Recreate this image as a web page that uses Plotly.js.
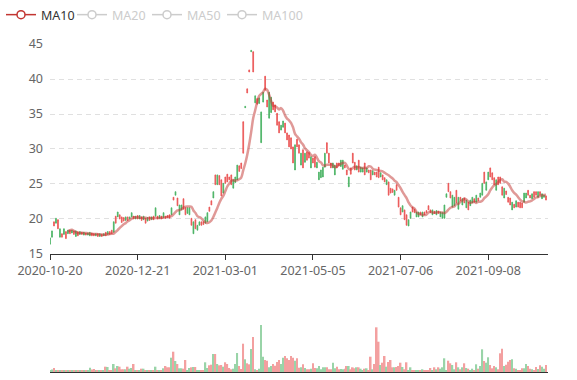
<!DOCTYPE html>
<html><head><meta charset="utf-8">
<script src="https://cdn.plot.ly/plotly-3.0.1.min.js"></script>
<style>html,body{margin:0;padding:0;background:#fff}#chart{width:577px;height:380px}</style>
</head><body><div id="chart"></div>
<script>
// Category tick labels (trading days) and their positions on the category axis
const tickDates = ['2020-10-20','2020-12-21','2021-03-01','2021-05-05','2021-07-06','2021-09-08'];
const tickIndex = [0, 44, 88, 132, 176, 220];

const open = [
17.3,18.3,19.0,20.1,18.6,18.6,17.4,18.6,17.2,18.4,
17.9,18.4,17.8,18.3,17.6,18.2,17.8,18.1,17.7,18.0,
18.1,17.6,17.6,17.9,17.5,17.9,17.5,17.9,17.6,18.2,
17.8,17.9,19.6,19.4,21.0,20.0,19.5,19.7,20.3,19.8,
20.3,20.9,20.0,20.4,20.0,20.5,19.8,20.4,19.4,20.2,
19.8,20.3,19.9,21.6,20.0,20.5,20.0,20.9,20.1,20.2,
20.1,21.6,22.7,23.9,21.9,22.0,22.0,21.4,20.6,21.6,
21.6,19.1,19.6,18.6,19.1,19.6,19.1,19.2,20.3,20.9,
21.1,22.0,23.9,24.9,26.3,24.9,23.3,25.1,25.1,25.3,
25.6,24.9,25.6,26.0,27.7,26.8,27.2,29.4,36.1,38.0,
41.0,44.1,41.0,37.6,36.4,37.3,35.3,38.1,38.4,36.0,
38.1,37.4,35.6,35.3,33.4,32.3,33.4,34.0,32.3,31.3,
30.3,30.0,28.0,30.6,30.3,29.4,29.4,27.3,29.4,28.4,
28.7,28.9,28.0,27.4,28.1,26.7,27.0,27.4,29.4,29.4,
28.0,27.3,28.0,27.7,27.3,27.6,28.4,28.4,27.3,26.3,
26.0,26.4,28.0,27.0,27.6,26.7,27.4,27.3,26.3,27.3,
26.6,25.6,26.9,26.3,26.0,25.9,26.6,25.6,25.3,25.6,
23.4,23.7,23.8,24.1,24.1,21.7,20.6,21.9,19.9,19.1,
19.9,21.0,21.0,20.9,21.0,21.0,20.6,21.0,20.6,20.9,
21.3,20.9,21.3,20.8,21.2,20.8,21.0,20.9,22.0,23.6,
23.9,23.0,23.4,23.1,22.3,23.1,22.6,22.9,22.3,22.7,
21.3,22.7,23.1,22.4,23.4,22.6,23.7,25.1,25.1,25.3,
26.7,26.0,25.6,24.9,25.6,24.9,25.1,23.4,24.4,23.5,
22.4,22.0,22.4,21.6,22.6,21.7,21.6,21.6,23.7,23.7,
23.4,23.0,23.6,23.1,23.4,23.9,23.4,23.6,23.4,22.7];

const close = [
16.4,17.4,19.6,19.4,19.9,17.4,17.9,17.8,18.2,17.9,
18.4,18.0,18.3,17.5,18.2,17.8,18.1,17.7,18.0,17.7,
17.6,18.0,17.9,17.6,17.9,17.5,17.8,17.6,18.1,17.8,
18.2,18.4,18.1,20.4,20.3,20.6,20.3,20.2,19.8,20.3,
20.0,20.3,20.4,20.0,20.5,20.0,20.3,19.9,20.1,19.7,
20.3,19.9,20.4,20.4,20.4,20.1,20.4,20.2,20.4,20.5,
20.6,20.6,23.1,23.4,23.0,20.6,21.3,22.9,21.6,20.8,
20.6,20.1,17.9,19.9,18.4,19.1,19.6,19.6,19.4,19.6,
21.7,22.6,23.0,26.3,24.9,26.2,25.6,23.7,26.0,26.4,
26.0,26.3,24.4,25.2,25.6,27.6,28.0,33.9,35.9,38.6,
41.3,43.9,43.9,36.6,37.2,36.5,30.9,36.7,40.4,37.0,
34.4,35.2,36.7,36.3,35.1,33.9,32.7,33.1,33.7,32.3,
32.0,31.6,30.3,27.0,31.4,30.6,27.7,29.9,28.1,29.6,
29.5,27.3,28.7,28.9,27.3,25.6,25.9,26.0,27.4,30.9,
29.4,28.0,27.3,26.3,28.0,28.0,27.5,27.1,27.7,27.0,
24.6,27.3,29.4,28.1,27.0,28.4,26.7,26.7,28.0,26.7,
27.0,27.0,26.3,26.7,26.7,27.4,26.0,26.3,25.9,24.9,
25.3,24.4,24.3,23.4,24.9,23.1,21.6,21.0,21.3,20.6,
19.0,20.1,21.7,21.4,20.3,20.3,21.0,20.3,21.0,21.2,
21.9,21.3,20.6,21.1,20.6,21.1,20.3,20.1,20.1,23.1,
25.1,23.9,21.7,21.9,24.1,21.4,23.1,22.0,23.0,21.6,
22.4,21.9,22.3,22.9,22.4,23.0,23.1,23.4,26.7,24.1,
25.6,27.3,26.6,25.9,24.1,26.0,26.0,24.6,23.0,24.0,
23.1,23.0,21.3,22.1,21.7,22.4,22.4,22.3,22.4,23.0,
24.1,23.4,22.9,23.9,23.9,23.1,23.9,22.9,23.1,23.3];

// Volume (10^5 shares)
const volume = [
1.7,2.5,4,2,1.5,1.2,1,1.2,2,1,
1.2,1.5,1,1.8,1,1.2,1,1.5,1.2,1.5,
4.3,2.5,3,1.2,2,1,1.2,2,5.3,5,
1.3,2,8,3.7,6,5.3,2.7,2.7,2.7,5.3,
3.3,4,8,2,2,2,3.3,3.3,1.5,1.2,
2,1.5,1.2,5.3,2,2,2,3.7,6,4.7,
4.7,14.3,20.3,11,8,3.7,3.7,3.3,12,2,
4,4.7,5,5,1.3,2,2,2,9.7,4,
6.7,7.3,18,18,8,6.7,7,5.3,9.7,8,
4,2.7,3.3,8,19,6,3,28.3,12.7,8.7,
7.7,23,35,2.7,1.3,3.3,47,15.3,12,11.3,
4.7,6,8,6.3,10,12,8,14.3,16,13.7,
12,16,14.3,11.3,13.7,4.3,4.7,7.7,4,2.7,
2.7,3.3,8.7,4,3.7,6,2.7,4.7,4.7,4.7,
2.7,2.7,9.3,3.7,5.3,2.7,3,2.7,3.3,6,
6,2.7,4.7,3.7,4.7,4.7,3.3,2,3.3,3.7,
2,15.3,2.7,8,44.7,30.3,7,9.3,16,5.3,
10,12,4.7,4.7,5,6,9.3,5,2.7,9.7,
1.3,4.7,2,2,2,2,1.3,2.7,1.7,1.7,
1.7,4,2,4.7,2.7,4.7,3.3,4.7,13.7,2,
11.3,8.7,7,2.7,9.7,4.7,2.7,4.7,8.7,4,
3.3,2,3.3,2,7.7,3.3,6,22.7,11,9.3,
14.7,7,3.7,6,4.7,2.7,18.7,23.3,6,7.3,
10.3,12,12.7,3.7,3.3,1.3,2,3.7,3.7,8,
6,3.3,2.7,2,5,3,6.7,5.3,3.3,7];

const maNames = ['MA10','MA20','MA50','MA100'];
const maPeriods = [10, 20, 50, 100];

const UP = '#eb5454', DOWN = '#47b262', MA_COLOR = '#c23531', OFF = '#cccccc';
const FONT = '"Noto Sans", "Open Sans", sans-serif';

const idx = open.map((_, i) => i);
// candles drawn without visible wicks
const high = open.map((o, i) => Math.max(o, close[i]));
const low = open.map((o, i) => Math.min(o, close[i]));

function movingAverage(values, n) {
  return values.map((v, i) => {
    if (i < n - 1) return null;
    let s = 0;
    for (let k = i - n + 1; k <= i; k++) s += values[k];
    return +(s / n).toFixed(3);
  });
}
const ma10 = movingAverage(close, maPeriods[0]);
const volColors = close.map((c, i) => c > open[i] ? UP : DOWN);

const traces = [
  {
    type: 'candlestick', name: '日K', x: idx, open: open, high: high, low: low, close: close,
    xaxis: 'x', yaxis: 'y', whiskerwidth: 0, showlegend: false,
    increasing: {line: {color: UP, width: 0.8}, fillcolor: UP},
    decreasing: {line: {color: DOWN, width: 0.8}, fillcolor: DOWN},
    hoverinfo: 'y'
  },
  {
    type: 'scatter', mode: 'lines', name: maNames[0], x: idx, y: ma10,
    xaxis: 'x', yaxis: 'y', legendgroup: maNames[0], showlegend: false,
    line: {color: MA_COLOR, width: 2.5, shape: 'spline', smoothing: 1}, opacity: 0.5,
    connectgaps: false, hoverinfo: 'y'
  },
  {
    type: 'bar', name: 'Volume', x: idx, y: volume, xaxis: 'x2', yaxis: 'y2',
    marker: {color: volColors, line: {width: 0}}, opacity: 0.55, showlegend: false, hoverinfo: 'y'
  }
];
// legend entries: MA10 active, the others switched off (grey)
const legendIds = ['legend', 'legend2', 'legend3', 'legend4'];
maNames.forEach((nm, k) => {
  const on = k === 0;
  traces.push({
    type: 'scatter', mode: 'lines+markers', name: nm, x: [null], y: [null],
    xaxis: 'x', yaxis: 'y', legendgroup: nm, showlegend: true,
    legend: legendIds[k],
    line: {color: on ? MA_COLOR : OFF, width: 1.5},
    marker: {symbol: 'circle', size: 8, color: '#fff', line: {color: on ? MA_COLOR : OFF, width: 1.5}}
  });
});

function legendBox(px, color) {
  return {orientation: 'h', xref: 'container', yref: 'container', x: px / 577, xanchor: 'left',
          y: 0.9605, yanchor: 'middle', font: {family: FONT, size: 12.5, color: color},
          bgcolor: 'rgba(0,0,0,0)', borderwidth: 0};
}

const layout = {
  width: 577, height: 380,
  margin: {l: 50, r: 29, t: 44, b: 8, pad: 0, autoexpand: false},
  paper_bgcolor: '#fff', plot_bgcolor: '#fff',
  font: {family: FONT, size: 12.5, color: '#666'},
  showlegend: true,
  legend: legendBox(1, '#333'),
  legend2: legendBox(72, OFF),
  legend3: legendBox(147, OFF),
  legend4: legendBox(222, OFF),
  boxgap: 0.45,
  bargap: 0.18,
  xaxis: {
    domain: [0, 1], anchor: 'y', range: [0, 250], type: 'linear',
    tickmode: 'array', tickvals: tickIndex, ticktext: tickDates,
    showline: true, linecolor: '#333', linewidth: 1,
    ticks: 'outside', ticklen: 5, tickcolor: '#333', tickwidth: 1,
    showgrid: false, zeroline: false, automargin: false,
    tickfont: {family: FONT, size: 12.5, color: '#666'},
    rangeslider: {visible: false}, fixedrange: true
  },
  xaxis2: {
    domain: [0, 1], anchor: 'y2', matches: 'x', range: [0, 250],
    showline: true, linecolor: '#333', linewidth: 1,
    showticklabels: false, ticks: '', showgrid: false, zeroline: false,
    rangeslider: {visible: false}
  },
  yaxis: {
    domain: [0.3598, 1], anchor: 'x', range: [15, 45], dtick: 5, tick0: 15,
    showline: false, ticks: '', zeroline: false, automargin: false,
    showgrid: true, gridcolor: '#e0e0e0', gridwidth: 1, griddash: '5px,4px',
    ticklabelstandoff: 6,
    tickfont: {family: FONT, size: 12.5, color: '#666'}, fixedrange: true
  },
  yaxis2: {
    domain: [0, 0.1829], anchor: 'x2', range: [0, 60],
    showline: false, showgrid: false, zeroline: false, showticklabels: false, ticks: '', fixedrange: true
  }
};

Plotly.newPlot('chart', traces, layout, {displayModeBar: false, responsive: false});
</script>
</body></html>
